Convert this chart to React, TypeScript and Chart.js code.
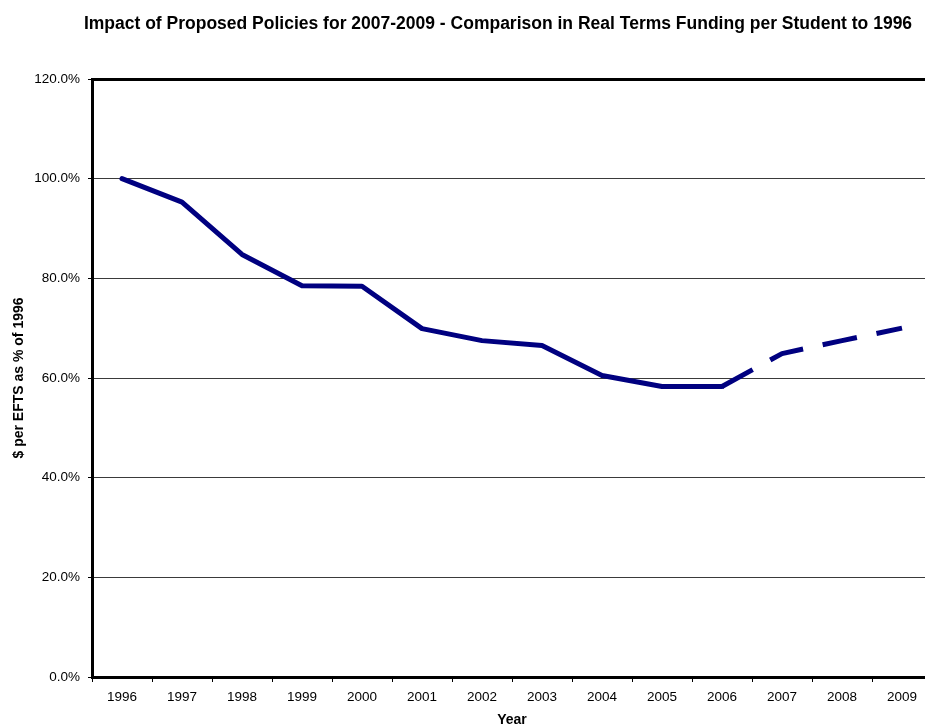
import React, { useEffect, useRef } from 'react';
import { Chart, registerables } from 'chart.js';

Chart.register(...registerables);

const chartTitle =
  'Impact of Proposed Policies for 2007-2009 - Comparison in Real Terms Funding per Student to 1996';
const xAxisTitle = 'Year';
const yAxisTitle = '$ per EFTS as % of 1996';

const years = ['1996', '1997', '1998', '1999', '2000', '2001', '2002', '2003', '2004', '2005', '2006', '2007', '2008', '2009'];
const fundingPct = [100.0, 95.3, 84.8, 78.5, 78.4, 69.9, 67.5, 66.5, 60.5, 58.3, 58.3, 64.9, 67.5, 70.0];
const projectionFromIndex = 10; // segments after 2006 are proposed (dashed)

const yMin = 0;
const yMax = 120;
const yStep = 20;

const FONT = "'Liberation Sans', Arial, Helvetica, sans-serif";
const CANVAS_W = 1010;
const CANVAS_H = 726;

const centeredTitlePlugin = {
  id: 'centeredTitle',
  afterDraw(chart: any) {
    const { ctx } = chart;
    ctx.save();
    ctx.font = `bold 17.5px ${FONT}`;
    ctx.fillStyle = '#000';
    ctx.textAlign = 'center';
    ctx.textBaseline = 'middle';
    ctx.fillText(chartTitle, 498, 24);
    ctx.restore();
  },
};

export default function App() {
  const canvasRef = useRef<HTMLCanvasElement | null>(null);

  useEffect(() => {
    if (!canvasRef.current) return;
    const chart = new Chart(canvasRef.current, {
      type: 'line',
      data: {
        labels: years,
        datasets: [
          {
            label: 'Funding per student',
            data: fundingPct,
            borderColor: '#000080',
            backgroundColor: '#000080',
            borderWidth: 5,
            pointRadius: 0,
            pointHoverRadius: 0,
            tension: 0,
            fill: false,
            borderCapStyle: 'round',
            borderJoinStyle: 'round',
            segment: {
              borderDash: (ctx: any) => (ctx.p0DataIndex >= projectionFromIndex ? [35, 20] : undefined),
              borderCapStyle: (ctx: any) => (ctx.p0DataIndex >= projectionFromIndex ? 'butt' : undefined),
            },
          } as any,
        ],
      },
      plugins: [centeredTitlePlugin],
      options: {
        responsive: false,
        animation: false,
        devicePixelRatio: 1,
        layout: { padding: { left: 0, right: CANVAS_W - 932, top: 79, bottom: 0 } },
        plugins: {
          legend: { display: false },
          tooltip: { enabled: false },
          title: { display: false },
        },
        scales: {
          x: {
            type: 'category',
            offset: true,
            grid: {
              display: true,
              drawOnChartArea: false,
              drawTicks: true,
              tickLength: 5,
              tickColor: '#000',
              tickWidth: 1,
              offset: true,
            },
            border: { display: true, color: '#000', width: 3 },
            ticks: {
              color: '#000',
              font: { family: FONT, size: 13.5 },
              padding: 7,
              maxRotation: 0,
              autoSkip: false,
            },
            title: {
              display: true,
              text: xAxisTitle,
              color: '#000',
              font: { family: FONT, size: 14, weight: 'bold' },
              padding: { top: 0, bottom: -2.5 },
            },
            afterFit: (scale: any) => {
              scale.height = 49;
            },
          },
          y: {
            min: yMin,
            max: yMax,
            grid: {
              color: (ctx: any) => (ctx.tick && ctx.tick.value === yMax ? '#000' : '#3a3a3a'),
              lineWidth: (ctx: any) => (ctx.tick && ctx.tick.value === yMax ? 3 : 1),
              tickLength: 4,
              tickColor: '#000',
              tickWidth: 1,
            },
            border: { display: true, color: '#000', width: 3 },
            ticks: {
              stepSize: yStep,
              color: '#000',
              font: { family: FONT, size: 13.5 },
              padding: 8,
              callback: (v: any) => Number(v).toFixed(1) + '%',
            },
            title: {
              display: true,
              text: yAxisTitle,
              color: '#000',
              font: { family: FONT, size: 14, weight: 'bold' },
              padding: { top: 10.5, bottom: 0 },
            },
            afterFit: (scale: any) => {
              scale.width = 92;
            },
          },
        },
      },
    });
    return () => chart.destroy();
  }, []);

  return (
    <div
      style={{
        position: 'fixed',
        left: 0,
        top: 0,
        width: 925,
        height: 726,
        overflow: 'hidden',
        background: '#fff',
      }}
    >
      <canvas ref={canvasRef} width={CANVAS_W} height={CANVAS_H} style={{ display: 'block' }} />
    </div>
  );
}
